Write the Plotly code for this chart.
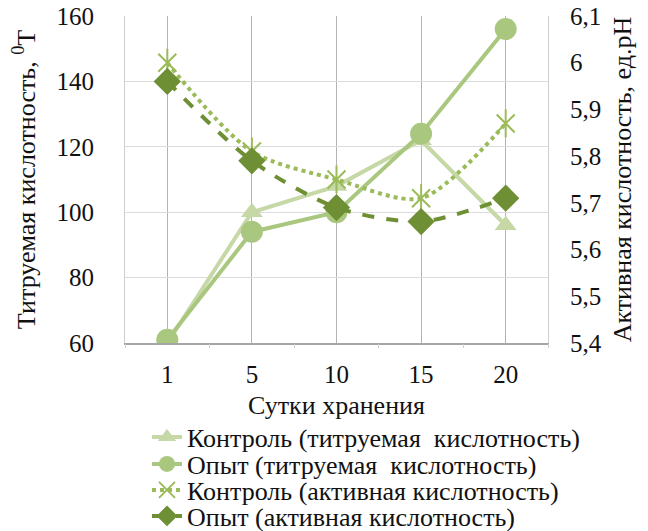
import plotly.graph_objects as go

days = ["1", "5", "10", "15", "20"]
control_titr = [60, 100, 108, 122, 96]
exp_titr = [61, 94, 100, 124, 156]
control_ph = [6.0, 5.81, 5.75, 5.71, 5.87]
exp_ph = [5.96, 5.79, 5.69, 5.66, 5.71]

names = [
    "Контроль (титруемая  кислотность)",
    "Опыт (титруемая  кислотность)",
    "Контроль (активная кислотность)",
    "Опыт (активная кислотность)",
]

FONT = "Liberation Serif"
TXT = "#111111"
c1 = "#c5d8a6"
c2 = "#a9c77e"
c3 = "#9bbb59"
c4 = "#6e8f34"

fig = go.Figure()
fig.add_trace(go.Scatter(x=days, y=control_titr, name=names[0], mode="lines+markers", legend="legend",
                         line=dict(color=c1, width=4),
                         marker=dict(symbol="triangle-up", size=19, color=c1)))
fig.add_trace(go.Scatter(x=days, y=exp_titr, name=names[1], mode="lines+markers", legend="legend2",
                         line=dict(color=c2, width=4),
                         marker=dict(symbol="circle", size=22, color=c2)))
fig.add_trace(go.Scatter(x=days, y=control_ph, name=names[2], mode="lines+markers", yaxis="y2", legend="legend3",
                         line=dict(color=c3, width=4, dash="dot", shape="spline", smoothing=0.8),
                         marker=dict(symbol="x-thin-open", size=18, color=c3, line=dict(color=c3, width=2))))
fig.add_trace(go.Scatter(x=days, y=control_ph, mode="markers", yaxis="y2", showlegend=False, hoverinfo="skip",
                         marker=dict(symbol="line-ns-open", size=20, color=c3, line=dict(color=c3, width=2))))
fig.add_trace(go.Scatter(x=days, y=exp_ph, name=names[3], mode="lines+markers", yaxis="y2", legend="legend4",
                         line=dict(color=c4, width=4, dash="dash", shape="spline", smoothing=0.8),
                         marker=dict(symbol="diamond", size=21, color=c4)))
# helper invisible trace for boundary tick marks
fig.add_trace(go.Scatter(x=days, y=control_titr, xaxis="x2", mode="markers", showlegend=False,
                         hoverinfo="skip", marker=dict(opacity=0)))

LEG_X = 0.052
leg_common = dict(x=LEG_X, xanchor="left", yanchor="middle", bgcolor="rgba(0,0,0,0)",
                  font=dict(family=FONT, size=26, color=TXT), itemwidth=30)

fig.update_layout(
    width=648, height=531,
    margin=dict(l=125, r=100, t=16, b=188, autoexpand=False),
    paper_bgcolor="white", plot_bgcolor="white",
    separators=", ",
    font=dict(family=FONT, size=25, color=TXT),
    showlegend=True,
    legend=dict(y=-0.2875, **leg_common),
    legend2=dict(y=-0.370, **leg_common),
    legend3=dict(y=-0.4495, **leg_common),
    legend4=dict(y=-0.529, **leg_common),
    xaxis=dict(type="category", categoryorder="array", categoryarray=days, range=[-0.5, 4.5],
               showgrid=True, gridcolor="#b3b3b3", gridwidth=1,
               showline=True, linecolor="#a6a6a6", linewidth=1.5, ticks="",
               tickfont=dict(family=FONT, size=25, color=TXT), ticklabelstandoff=8,
               title=dict(text="Сутки хранения", font=dict(family=FONT, size=26, color=TXT), standoff=9)),
    xaxis2=dict(type="category", categoryorder="array", categoryarray=days, range=[-0.5, 4.5],
                overlaying="x", anchor="y", side="bottom", tickson="boundaries", ticks="outside",
                ticklen=4, tickcolor="#cfcfcf", showticklabels=False, showgrid=False, showline=False),
    yaxis=dict(range=[60, 160], dtick=20, showgrid=True, gridcolor="#dcdcdc", gridwidth=1,
               showline=True, linecolor="#cfcfcf", zeroline=False, ticks="",
               tickfont=dict(family=FONT, size=25, color=TXT), ticklabelstandoff=25,
               title=dict(text="Титруемая кислотность, <sup>0</sup>Т", font=dict(family=FONT, size=26, color=TXT), standoff=13)),
    yaxis2=dict(range=[5.4, 6.1], dtick=0.1, overlaying="y", side="right", showgrid=False,
                showline=True, linecolor="#cfcfcf", zeroline=False, ticks="",
                tickfont=dict(family=FONT, size=25, color=TXT), ticklabelstandoff=16,
                title=dict(text="Активная кислотность, ед.pH", font=dict(family=FONT, size=26, color=TXT), standoff=12)),
)

fig.write_html("out.html", config={"displayModeBar": False},
               post_script="document.body.style.margin='0px';document.body.style.padding='0px';")
